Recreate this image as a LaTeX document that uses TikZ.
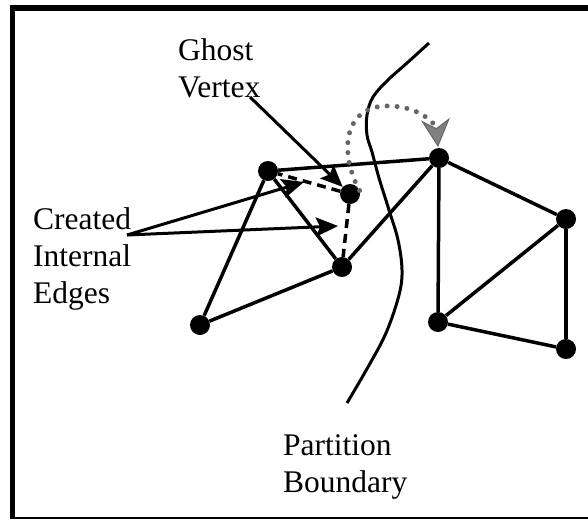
\documentclass[tikz,border=0pt]{standalone}
\usepackage{fontspec}
\setmainfont{Liberation Serif}
\usetikzlibrary{arrows.meta}
\begin{document}
\begin{tikzpicture}[x=1pt,y=-1pt,
  vertex/.style={circle,fill=black,minimum size=20pt,inner sep=0pt},
  edge/.style={line width=3.5pt},
  newedge/.style={line width=3.5pt,dash pattern=on 9pt off 6pt},
  callout/.style={line width=3pt,-{Stealth[length=22pt,width=19pt,inset=4pt]}},
  migrate/.style={black!60,line width=5pt,line cap=round,dash pattern=on 0pt off 10pt,
    -{Stealth[length=28pt,width=29pt,inset=9pt,fill=black!50,color=black!60,line width=1pt]}},
  boundary/.style={line width=3pt},
  txt/.style={font=\fontsize{31.5}{37}\selectfont,inner sep=0pt,anchor=base west}]
\useasboundingbox (0,0) rectangle (588,520);

% frame (open on the right)
\draw[line width=6pt] (10,8) -- (588,8);
\draw[line width=5pt] (12.5,5) -- (12.5,519);
\draw[line width=2pt] (10,518) -- (588,518);

% vertices
\node[vertex] (A) at (268,171) {};
\node[vertex] (G) at (350,194) {};
\node[vertex] (B) at (342,267) {};
\node[vertex] (C) at (200,325) {};
\node[vertex] (D) at (439,158) {};
\node[vertex] (E) at (566,219) {};
\node[vertex] (F) at (438,322) {};
\node[vertex] (H) at (566,349) {};

% partition boundary
\draw[boundary] plot[smooth,tension=0.6] coordinates {(429,43) (407,63) (388,80) (373,97)
  (367,115) (367,135) (372,152) (379,178) (389,210) (398,240) (402,270) (399,295)
  (386,333) (368,367) (347,403)};

% mesh edges
\draw[edge] (A) -- (D);
\draw[edge] (A) -- (C);
\draw[edge] (A) -- (B);
\draw[edge] (C) -- (B);
\draw[edge] (B) -- (D);
\draw[edge] (D) -- (E);
\draw[edge] (D) -- (F);
\draw[edge] (E) -- (F);
\draw[edge] (E) -- (H);
\draw[edge] (F) -- (H);

% edges created to the ghost vertex
\draw[newedge] (G) -- (A);
\draw[newedge] (G) -- (B);

% ghost vertex migrating across the boundary
\draw[migrate] (G.20) .. controls (340,155) and (342,108) .. (385,106)
  .. controls (420,105) and (436,125) .. (438,147);

% labels
\node[txt] (ghost1) at (178,60) {Ghost};
\node[txt] (ghost2) at (178,97) {Vertex};
\node[txt] (cie1) at (33,229) {Created};
\node[txt] (cie2) at (33,266) {Internal};
\node[txt] (cie3) at (33,303) {Edges};
\node[txt] (pb1) at (283,455) {Partition};
\node[txt] (pb2) at (283,492) {Boundary};

% callout arrows
\coordinate (gvtail) at (250,97);
\coordinate (cietail) at (127,235);
\coordinate (tipA) at (304,182);
\coordinate (tipB) at (338,226);
\draw[callout] (gvtail) -- (G);
\draw[callout] (cietail) -- (tipA);
\draw[callout] (cietail) -- (tipB);
\end{tikzpicture}
\end{document}
